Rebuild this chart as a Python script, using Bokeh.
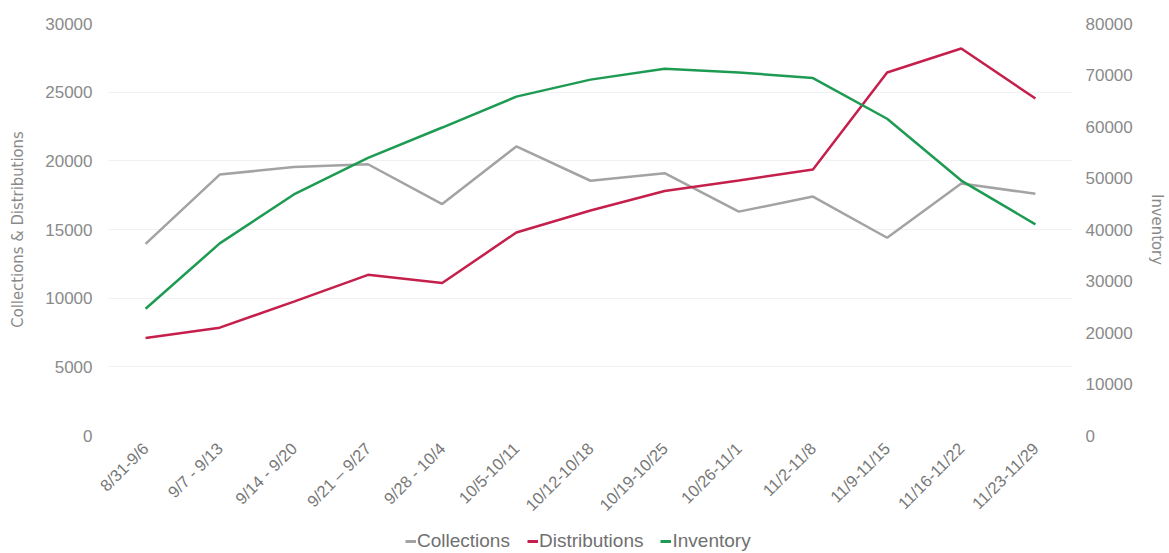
import math
from bokeh.plotting import figure
from bokeh.layouts import column
from bokeh.models import Range1d, LinearAxis, Legend, LegendItem, FactorRange
from bokeh.embed import file_html
from bokeh.resources import INLINE

weeks = ["8/31-9/6", "9/7 - 9/13", "9/14 - 9/20", "9/21 \u2013 9/27", "9/28 - 10/4",
         "10/5-10/11", "10/12-10/18", "10/19-10/25", "10/26-11/1", "11/2-11/8",
         "11/9-11/15", "11/16-11/22", "11/23-11/29"]
collections = [13950, 19000, 19550, 19750, 16850, 21050, 18550, 19100, 16300, 17400, 14400, 18350, 17600]
distributions = [7100, 7850, 9750, 11700, 11100, 14780, 16380, 17800, 18570, 19370, 26430, 28180, 24540]
inventory = [24600, 37300, 46800, 53900, 59800, 65800, 69100, 71200, 70500, 69400, 61500, 49500, 41000]
series_names = ["Collections", "Distributions", "Inventory"]

left_ticks = [0, 5000, 10000, 15000, 20000, 25000, 30000]
right_ticks = [0, 10000, 20000, 30000, 40000, 50000, 60000, 70000, 80000]

GRAY = "#a3a3a3"
RED = "#c51f4b"
GREEN = "#1e9b52"
TXT = "#8a8a8a"
COLORS = [GRAY, RED, GREEN]

p = figure(x_range=FactorRange(*weeks), y_range=Range1d(0, 30000),
           width=1169, height=523, output_backend="svg", toolbar_location=None,
           min_border_left=108, min_border_right=97, min_border_top=23, min_border_bottom=88)
p.extra_y_ranges = {"inv": Range1d(0, 80000)}
p.outline_line_color = None
p.background_fill_color = "white"
p.border_fill_color = "white"

p.line(weeks, collections, line_color=GRAY, line_width=2.5)
p.line(weeks, distributions, line_color=RED, line_width=2.5)
p.line(weeks, inventory, line_color=GREEN, line_width=2.5, y_range_name="inv")

def style_axis(ax, label_standoff, axis_label_standoff):
    ax.axis_label_text_font = "DejaVu Sans Condensed"
    ax.axis_label_text_font_style = "normal"
    ax.axis_label_text_font_size = "16.5px"
    ax.axis_label_text_color = TXT
    ax.axis_label_standoff = axis_label_standoff
    ax.major_label_text_font = "Liberation Sans"
    ax.major_label_text_font_size = "17px"
    ax.major_label_text_color = TXT
    ax.major_label_standoff = label_standoff
    ax.axis_line_color = None
    ax.major_tick_line_color = None
    ax.minor_tick_line_color = None
    ax.major_tick_out = 0
    ax.major_tick_in = 0
    ax.minor_tick_out = 0
    ax.minor_tick_in = 0

ya = p.yaxis[0]
ya.ticker = left_ticks
ya.axis_label = "Collections & Distributions"
style_axis(ya, 16, 15)

ra = LinearAxis(y_range_name="inv", ticker=right_ticks, axis_label="Inventory")
style_axis(ra, 13, 12)
p.add_layout(ra, "right")

xa = p.xaxis[0]
style_axis(xa, 10, 0)
xa.major_label_orientation = math.pi / 4
xa.major_label_text_font_size = "16.5px"
xa.major_label_text_color = "#777777"

p.xgrid.grid_line_color = None
p.ygrid.grid_line_color = "#f1f1f1"
p.ygrid.ticker = left_ticks

# legend strip below the chart
lg = figure(width=1169, height=30, x_range=Range1d(0, 1), y_range=Range1d(0, 1),
            output_backend="svg", toolbar_location=None,
            min_border_left=0, min_border_right=0, min_border_top=0, min_border_bottom=0)
lg.axis.visible = False
lg.grid.grid_line_color = None
lg.outline_line_color = None
lg.background_fill_color = "white"
lg.border_fill_color = "white"
items = []
for name, col in zip(series_names, COLORS):
    r = lg.line(x=[float("nan")], y=[float("nan")], line_color=col, line_width=3)
    items.append(LegendItem(label=name, renderers=[r]))

legend = Legend(items=items, orientation="horizontal", location=(297, 1),
                label_text_font="Liberation Sans", label_text_font_size="19px",
                label_text_color="#707070", glyph_width=11, glyph_height=10,
                label_standoff=1, spacing=17, padding=0, margin=0,
                border_line_color=None, background_fill_alpha=0)
lg.add_layout(legend)

layout = column(p, lg, spacing=0)
open("out.html", "w").write(file_html(layout, INLINE))
